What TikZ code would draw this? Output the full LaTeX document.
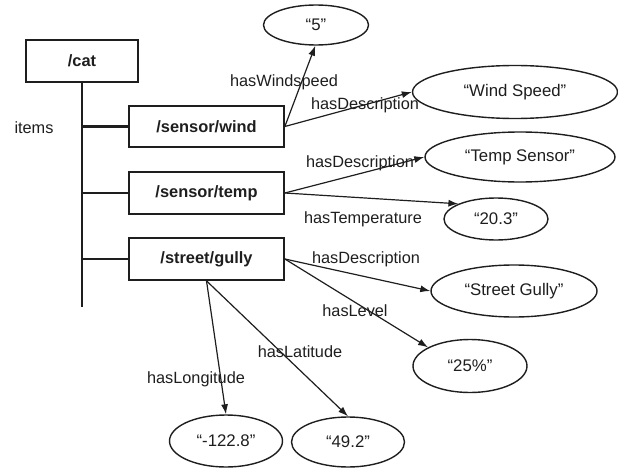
\documentclass[tikz,border=0pt]{standalone}
\usepackage{fontspec}
\setmainfont{Liberation Sans}
\usetikzlibrary{shapes.geometric,arrows.meta}
\definecolor{ink}{HTML}{1E1E1E}
\tikzset{
  every node/.style={text=ink},
  pathbox/.style={draw=ink, line width=1.7pt, rectangle, inner sep=0pt, font=\fontsize{16.4}{19}\selectfont\bfseries},
  valnode/.style={draw=ink, line width=1.4pt, ellipse, inner sep=0pt, font=\fontsize{16.8}{19}\selectfont},
  lbl/.style={inner sep=0pt, font=\fontsize{16.3}{19}\selectfont},
  tree/.style={draw=ink, line width=2.8pt},
  rel/.style={draw=ink, line width=1.2pt, -{Latex[length=10pt,width=7pt]}}
}
\begin{document}
\begin{tikzpicture}[x=1pt,y=-1pt]
\useasboundingbox (0,0) rectangle (618,468);
% path boxes
\node[pathbox, minimum width=112pt, minimum height=42pt] (cat) at (82,61) {/cat};
\node[pathbox, minimum width=155pt, minimum height=41pt] (wind) at (206.5,126.5) {/sensor/wind};
\node[pathbox, minimum width=155pt, minimum height=42pt] (temp) at (206.5,193) {/sensor/temp};
\node[pathbox, minimum width=155pt, minimum height=42pt] (gully) at (206.5,259) {/street/gully};
% tree
\coordinate (treeend) at (82,307);
\draw[tree] (cat.south) -- (treeend);
\draw[tree] (82,126.5) -- (wind.west);
\draw[tree] (82,193) -- (temp.west);
\draw[tree] (82,259) -- (gully.west);
\node[lbl] (items) at (34,128) {items};
% values
\node[valnode, minimum width=105pt, minimum height=40pt] (five) at (316,25) {“5”};
\node[valnode, minimum width=205pt, minimum height=53pt] (wsp) at (515,92) {“Wind Speed”};
\node[valnode, minimum width=190pt, minimum height=50pt] (tsen) at (520,157) {“Temp Sensor”};
\node[valnode, minimum width=104pt, minimum height=42pt] (t203) at (496,219) {“20.3”};
\node[valnode, minimum width=166pt, minimum height=52pt] (sgul) at (514,291) {“Street Gully”};
\node[valnode, minimum width=114pt, minimum height=53pt] (lvl) at (470,366) {“25\%”};
\node[valnode, minimum width=113pt, minimum height=52pt] (lon) at (226,441) {“-122.8”};
\node[valnode, minimum width=113pt, minimum height=50pt] (lat) at (348,442) {“49.2”};
% relations
\draw[rel] (wind.east) -- (five.-92);
\draw[rel] (wind.east) -- (wsp.west);
\draw[rel] (temp.east) -- (tsen.west);
\draw[rel] (temp.east) -- (t203.158);
\draw[rel] (gully.east) -- (sgul.west);
\draw[rel] (gully.east) -- (lvl.156);
\draw[rel] (gully.south) -- (lon.north);
\draw[rel] (gully.south) -- (lat.north);
% labels
\node[lbl] (l1) at (284,82) {hasWindspeed};
\node[lbl] (l2) at (365,105) {hasDescription};
\node[lbl] (l3) at (360,163) {hasDescription};
\node[lbl] (l4) at (363,219) {hasTemperature};
\node[lbl] (l5) at (366,259) {hasDescription};
\node[lbl] (l6) at (355,311) {hasLevel};
\node[lbl] (l7) at (300,352) {hasLatitude};
\node[lbl] (l8) at (196,379) {hasLongitude};
\end{tikzpicture}
\end{document}
